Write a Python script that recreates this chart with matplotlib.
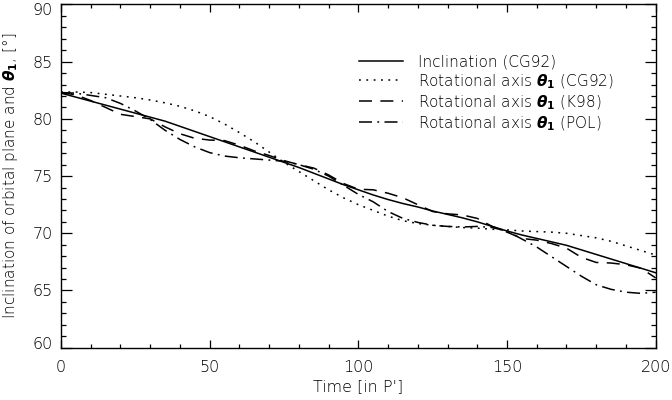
import numpy as np
import matplotlib
matplotlib.use('Agg')
import matplotlib.pyplot as plt
import matplotlib.transforms as mtransforms
from matplotlib.ticker import MultipleLocator

# time in units of P'
t = [0, 5, 10, 15, 20, 25, 30, 35, 40, 45, 50, 55, 60, 65, 70, 75, 80, 85, 90, 95, 100,
     105, 110, 115, 120, 125, 130, 135, 140, 145, 150, 155, 160, 165, 170, 175, 180, 185, 190, 195, 200]

incl_cg92 = [82.25, 81.9, 81.55, 81.2, 80.85, 80.5, 80.15, 79.8, 79.35, 78.9, 78.45, 78.0, 77.55, 77.1,
             76.65, 76.2, 75.75, 75.25, 74.75, 74.25, 73.8, 73.35, 72.95, 72.6, 72.3, 71.95, 71.65,
             71.35, 71.0, 70.6, 70.2, 69.85, 69.55, 69.25, 68.95, 68.55, 68.15, 67.75, 67.35, 66.95, 66.55]

theta_cg92 = [82.35, 82.35, 82.3, 82.15, 82.0, 81.85, 81.65, 81.4, 81.1, 80.7, 80.2, 79.55, 78.8, 78.0,
              77.1, 76.2, 75.4, 74.6, 73.8, 73.1, 72.5, 72.0, 71.5, 71.1, 70.85, 70.7, 70.6, 70.5,
              70.45, 70.35, 70.3, 70.2, 70.15, 70.1, 70.0, 69.8, 69.6, 69.3, 68.9, 68.5, 68.1]

theta_k98 = [82.3, 82.1, 81.6, 81.0, 80.4, 80.2, 80.0, 79.3, 78.7, 78.3, 78.15, 78.1, 77.7, 77.2,
             76.8, 76.35, 76.0, 75.7, 75.1, 74.35, 73.85, 73.8, 73.5, 73.1, 72.5, 71.9, 71.7, 71.6,
             71.3, 70.6, 70.1, 69.55, 69.4, 69.1, 68.7, 67.9, 67.45, 67.4, 67.25, 66.95, 66.1]

theta_pol = [82.3, 82.25, 82.05, 81.85, 81.35, 80.7, 79.95, 79.0, 78.2, 77.55, 77.05, 76.75, 76.6, 76.5,
             76.4, 76.3, 76.0, 75.6, 75.0, 74.2, 73.4, 72.75, 71.9, 71.3, 70.95, 70.7, 70.6, 70.55,
             70.6, 70.5, 70.2, 69.5, 68.8, 67.95, 67.1, 66.25, 65.5, 65.1, 64.85, 64.75, 64.85]

th = r'$\boldsymbol{\theta}_{\mathbf{1}}$'
labels = ['Inclination (CG92)',
          'Rotational axis ' + th + ' (CG92)',
          'Rotational axis ' + th + ' (K98)',
          'Rotational axis ' + th + ' (POL)']

plt.rcParams['font.family'] = ['DejaVu Sans']
plt.rcParams['font.weight'] = 'light'
plt.rcParams['axes.labelweight'] = 'light'
plt.rcParams['mathtext.fontset'] = 'dejavusans'

fig = plt.figure(figsize=(6.72, 4.0), dpi=100)
ax = fig.add_axes([0.0908, 0.1308, 0.8849, 0.858])

lw = 1.1
ax.plot(t, incl_cg92, color='black', lw=lw, label=labels[0])
ax.plot(t, theta_cg92, color='black', lw=lw, dashes=[1.2, 3.6], label=labels[1])
ax.plot(t, theta_k98, color='black', lw=lw, dashes=[8.5, 5.5], label=labels[2])
ax.plot(t, theta_pol, color='black', lw=lw, dashes=[8.5, 3.5, 1.2, 3.5], label=labels[3])

ax.set_xlim(0, 200)
ax.set_ylim(60, 90)
ax.xaxis.set_major_locator(MultipleLocator(50))
ax.xaxis.set_minor_locator(MultipleLocator(10))
ax.yaxis.set_major_locator(MultipleLocator(5))
ax.yaxis.set_minor_locator(MultipleLocator(1))

ax.tick_params(axis='both', which='both', direction='in', top=True, right=True,
               width=0.9, color='black', labelsize=11.5)
ax.tick_params(axis='x', which='major', length=5.5, pad=9)
ax.tick_params(axis='x', which='minor', length=2.8)
ax.tick_params(axis='y', which='major', length=8, pad=6)
ax.tick_params(axis='y', which='minor', length=3.8)
for s in ax.spines.values():
    s.set_linewidth(1.0)

ax.set_xlabel("Time [in P']", fontsize=11.5, labelpad=3)
ax.set_ylabel('Inclination of orbital plane and ' + th + ', [°]', fontsize=11, labelpad=9)

leg = ax.legend(loc='upper left', bbox_to_anchor=(0.49, 0.872), frameon=False, fontsize=11,
                handlelength=2.9, handletextpad=1.0, labelspacing=0.17, borderaxespad=0)

# keep the end labels inside the axis range, as IDL does
fig.canvas.draw()
yticks = ax.yaxis.get_major_ticks()
for tk in yticks:
    if abs(tk.get_loc() - 90) < 1e-6:
        tk.label1.set_transform(tk.label1.get_transform() +
                                mtransforms.ScaledTranslation(0, -0.05, fig.dpi_scale_trans))
    if abs(tk.get_loc() - 60) < 1e-6:
        tk.label1.set_transform(tk.label1.get_transform() +
                                mtransforms.ScaledTranslation(0, 0.05, fig.dpi_scale_trans))

fig.savefig('out.png', dpi=100)
